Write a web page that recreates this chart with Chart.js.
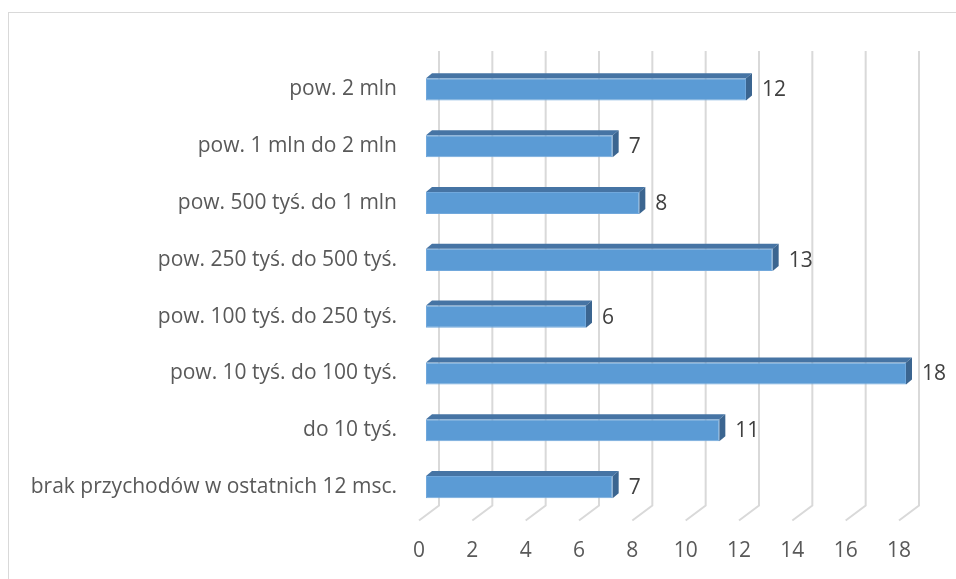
<!DOCTYPE html>
<html>
<head>
<meta charset="utf-8">
<script src="https://cdn.jsdelivr.net/npm/chart.js@4.4.1/dist/chart.umd.min.js"></script>
<style>
  html, body { margin: 0; padding: 0; background: #fff; }
  .wrap { position: relative; width: 956px; height: 579px; overflow: hidden; }
  .frame { position: absolute; left: 8px; top: 12px; width: 960px; height: 600px;
           border-top: 1.5px solid #d9d9d9; border-left: 1.5px solid #d9d9d9; }
  canvas { position: absolute; left: 0; top: 0; }
</style>
</head>
<body>
<div class="wrap">
  <div class="frame"></div>
  <canvas id="revChart" width="956" height="579"></canvas>
</div>
<script>
const categories = [
  "pow. 2 mln",
  "pow. 1 mln do 2 mln",
  "pow. 500 tyś. do 1 mln",
  "pow. 250 tyś. do 500 tyś.",
  "pow. 100 tyś. do 250 tyś.",
  "pow. 10 tyś. do 100 tyś.",
  "do 10 tyś.",
  "brak przychodów w ostatnich 12 msc."
];
const counts = [12, 7, 8, 13, 6, 18, 11, 7];
const xTicks = [0, 2, 4, 6, 8, 10, 12, 14, 16, 18];

const FONT = "'Open Sans', sans-serif";
const depthX = 6, depthY = 5;     // bar depth
const wallX = 13, wallY = 10;     // back wall offset from bar front
const floorX = 7, floorY = 5;     // floor front edge offset

// back wall gridlines + floor lines
const wallPlugin = {
  id: 'wall',
  beforeDatasetsDraw(chart) {
    const { ctx, chartArea, scales } = chart;
    ctx.save();
    ctx.strokeStyle = '#d9d9d9';
    ctx.lineWidth = 2;
    xTicks.forEach(v => {
      const x = scales.x.getPixelForValue(v);
      ctx.beginPath();
      ctx.moveTo(x + wallX, chartArea.top - wallY);
      ctx.lineTo(x + wallX, chartArea.bottom - wallY);
      ctx.lineTo(x - floorX, chartArea.bottom + floorY);
      ctx.stroke();
    });
    ctx.restore();
  }
};

// 3d faces of the bars and value labels
const barPlugin = {
  id: 'bars3d',
  afterDatasetsDraw(chart) {
    const { ctx } = chart;
    const meta = chart.getDatasetMeta(0);
    ctx.save();
    meta.data.forEach((bar, i) => {
      const x0 = bar.base, x1 = bar.x;
      const y0 = bar.y - bar.height / 2, y1 = bar.y + bar.height / 2;
      // top face
      ctx.fillStyle = '#4674a4';
      ctx.beginPath();
      ctx.moveTo(x0, y0);
      ctx.lineTo(x0 + depthX, y0 - depthY);
      ctx.lineTo(x1 + depthX, y0 - depthY);
      ctx.lineTo(x1, y0);
      ctx.closePath();
      ctx.fill();
      // side face
      ctx.fillStyle = '#3b6590';
      ctx.beginPath();
      ctx.moveTo(x1, y0);
      ctx.lineTo(x1 + depthX, y0 - depthY);
      ctx.lineTo(x1 + depthX, y1 - depthY);
      ctx.lineTo(x1, y1);
      ctx.closePath();
      ctx.fill();
      // value label
      ctx.fillStyle = '#404040';
      ctx.font = '21px ' + FONT;
      ctx.textAlign = 'left';
      ctx.textBaseline = 'middle';
      ctx.fillText(String(counts[i]), x1 + 16, bar.y + 1);
    });
    ctx.restore();
  }
};

const ctx = document.getElementById('revChart').getContext('2d');
const revChart = new Chart(ctx, {
  type: 'bar',
  data: {
    labels: categories,
    datasets: [{
      data: counts,
      backgroundColor: '#5b9bd5',
      borderColor: '#71a8dc',
      borderWidth: 1,
      borderSkipped: false,
      categoryPercentage: 1,
      barPercentage: 0.39
    }]
  },
  options: {
    indexAxis: 'y',
    responsive: false,
    animation: false,
    layout: { padding: { top: 61, right: 50, bottom: 0, left: 0 } },
    plugins: { legend: { display: false }, tooltip: { enabled: false } },
    scales: {
      x: {
        min: 0,
        max: 18,
        afterBuildTicks(axis) { axis.ticks = xTicks.map(v => ({ value: v })); },
        afterFit(axis) { axis.height = 63.5; },
        border: { display: false },
        grid: { display: false, drawTicks: false },
        ticks: { color: '#595959', font: { family: FONT, size: 21 }, padding: 23, labelOffset: -7 }
      },
      y: {
        afterFit(axis) { axis.width = 426; },
        border: { display: false },
        grid: { display: false, drawTicks: false },
        ticks: { color: '#595959', font: { family: FONT, size: 21 }, padding: 29 }
      }
    }
  },
  plugins: [wallPlugin, barPlugin]
});
</script>
</body>
</html>
